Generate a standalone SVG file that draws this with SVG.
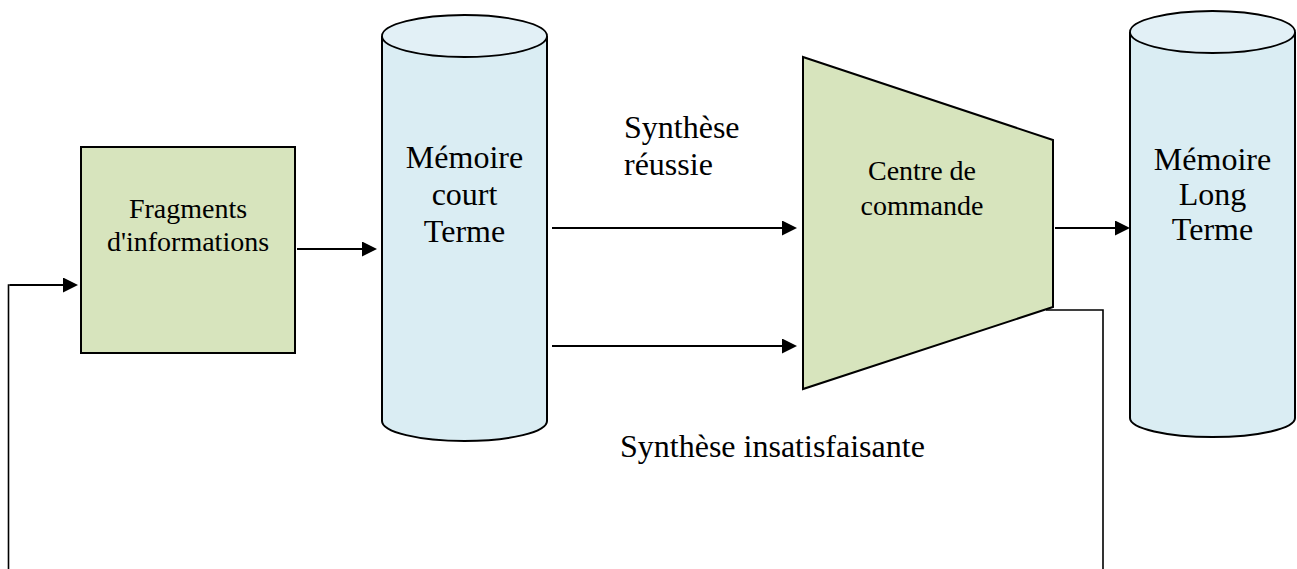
<svg xmlns="http://www.w3.org/2000/svg" width="1297" height="569" viewBox="0 0 1297 569">
  <defs>
    <marker id="arrow" markerUnits="userSpaceOnUse" markerWidth="15" markerHeight="15" viewBox="0 0 15 15" refX="0" refY="7.5" orient="auto">
      <path d="M0,0 L15,7.5 L0,15 z" fill="#000"/>
    </marker>
  </defs>
  <style>
    .lbl { font-family: "Liberation Serif", "Times New Roman", serif; fill: #000; text-anchor: middle; }
    .big { font-size: 32px; }
    .mid { font-size: 28px; }
    .green { fill: #D7E4BD; stroke: #000; stroke-width: 2; }
    .body { fill: #DAEDF3; stroke: #000; stroke-width: 2; }
    .top { fill: #E2F0F6; stroke: #000; stroke-width: 1.8; }
    .conn { fill: none; stroke: #000; stroke-width: 2.2; }
    .thin { fill: none; stroke: #000; stroke-width: 1.6; }
  </style>
  <rect width="1297" height="569" fill="#fff"/>

  <g id="connectors">
    <path class="conn" d="M297,249 H362" marker-end="url(#arrow)"/>
    <path class="thin" d="M8.5,569 V285 H10"/>
    <path class="conn" d="M10,285 H63" marker-end="url(#arrow)"/>
    <path class="conn" d="M552,228 H782" marker-end="url(#arrow)"/>
    <path class="conn" d="M552,346 H782" marker-end="url(#arrow)"/>
    <path class="conn" d="M1055,228 H1115" marker-end="url(#arrow)"/>
    <path class="thin" d="M1046,310 H1103 V569"/>
  </g>

  <g id="fragments">
    <rect class="green" x="81" y="147" width="214" height="206"/>
    <text class="lbl mid" x="188" y="218">Fragments</text>
    <text class="lbl mid" x="188" y="251">d'informations</text>
  </g>

  <g id="memoire-court-terme">
    <path class="body" d="M382,36 V421 A82.5,20 0 0 0 547,421 V36"/>
    <ellipse class="top" cx="464.5" cy="36" rx="82.5" ry="21"/>
    <text class="lbl big" x="464.5" y="168">Mémoire</text>
    <text class="lbl big" x="464.5" y="205">court</text>
    <text class="lbl big" x="464.5" y="242">Terme</text>
  </g>

  <g id="centre-commande">
    <path class="green" d="M803,57 L1053,140 L1053,307 L803,389 Z"/>
    <text class="lbl mid" x="922" y="180">Centre de</text>
    <text class="lbl mid" x="922" y="215">commande</text>
  </g>

  <g id="memoire-long-terme">
    <path class="body" d="M1130,32 V418 A82.5,19 0 0 0 1295,418 V32"/>
    <ellipse class="top" cx="1212.5" cy="32" rx="82.5" ry="21"/>
    <text class="lbl big" x="1212.5" y="170">Mémoire</text>
    <text class="lbl big" x="1212.5" y="205">Long</text>
    <text class="lbl big" x="1212.5" y="240">Terme</text>
  </g>

  <g id="labels">
    <text class="lbl big" x="624" y="138" text-anchor="start" style="text-anchor:start">Synthèse</text>
    <text class="lbl big" x="624" y="175" style="text-anchor:start">réussie</text>
    <text class="lbl big" x="620" y="457" style="text-anchor:start">Synthèse insatisfaisante</text>
  </g>
</svg>
